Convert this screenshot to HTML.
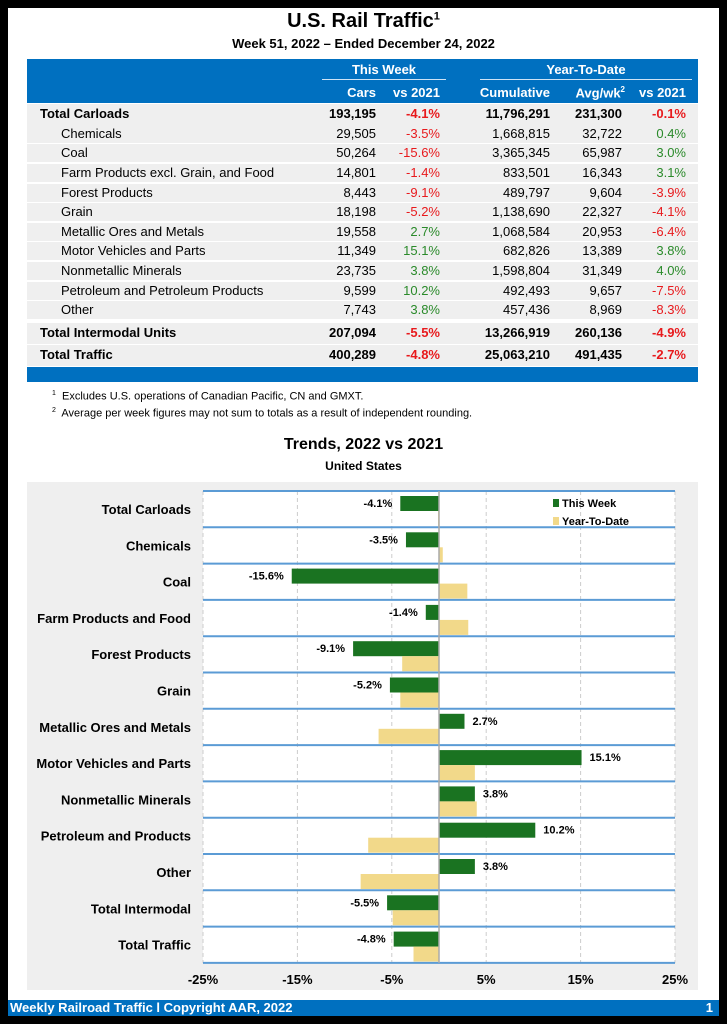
<!DOCTYPE html>
<html><head><meta charset="utf-8"><style>
body{margin:0;background:#000;}
#pg{position:relative;width:727px;height:1024px;background:#000;overflow:hidden;font-family:"Liberation Sans",sans-serif;}
#wh{position:absolute;left:8px;top:8px;width:711px;height:1008px;background:#fff;}
.t{position:absolute;white-space:nowrap;}
.r{text-align:right;}
.row{position:absolute;left:27px;width:671px;background:#efefef;}
.neg{color:#e8191c}.pos{color:#2a8a2a}
</style></head><body><div id="pg"><div id="wh"></div>
<div class="t" style="left:0;width:727px;text-align:center;top:10px;font-size:20px;font-weight:bold">U.S. Rail Traffic<sup style="font-size:11px">1</sup></div>
<div class="t" style="left:0;width:727px;text-align:center;top:36px;font-size:13px;font-weight:bold">Week 51, 2022 – Ended December 24, 2022</div>
<div style="position:absolute;left:27px;top:59px;width:671px;height:44px;background:#0070c0"></div>
<div style="position:absolute;left:322px;top:79px;width:124px;height:1px;background:#cfe3f5"></div>
<div style="position:absolute;left:480px;top:79px;width:212px;height:1px;background:#cfe3f5"></div>
<div class="t" style="left:322px;width:124px;text-align:center;top:62px;color:#fff;font-weight:bold;font-size:13px">This Week</div>
<div class="t" style="left:480px;width:212px;text-align:center;top:62px;color:#fff;font-weight:bold;font-size:13px">Year-To-Date</div>
<div class="t r" style="right:351px;top:85px;color:#fff;font-weight:bold;font-size:13px">Cars</div>
<div class="t r" style="right:287px;top:85px;color:#fff;font-weight:bold;font-size:13px">vs 2021</div>
<div class="t r" style="right:177px;top:85px;color:#fff;font-weight:bold;font-size:13px">Cumulative</div>
<div class="t r" style="right:102px;top:85px;color:#fff;font-weight:bold;font-size:13px">Avg/wk<sup style="font-size:8px">2</sup></div>
<div class="t r" style="right:41px;top:85px;color:#fff;font-weight:bold;font-size:13px">vs 2021</div>
<div id="rows"></div>
<div style="position:absolute;left:27px;top:367px;width:671px;height:15px;background:#0070c0"></div>
<div class="t" style="left:52px;top:390px;font-size:11px"><sup style="font-size:7px">1</sup>&nbsp; Excludes U.S. operations of Canadian Pacific, CN and GMXT.</div>
<div class="t" style="left:52px;top:407px;font-size:11px"><sup style="font-size:7px">2</sup>&nbsp; Average per week figures may not sum to totals as a result of independent rounding.</div>
<div class="t" style="left:0;width:727px;text-align:center;top:436px;font-size:16px;font-weight:bold">Trends, 2022 vs 2021</div>
<div class="t" style="left:0;width:727px;text-align:center;top:459px;font-size:12px;font-weight:bold">United States</div>
<svg id="ch" style="position:absolute;left:0;top:0" width="727" height="1024"></svg>
<div style="position:absolute;left:8px;top:1000px;width:711px;height:16px;background:#0070c0"></div>
<div class="t" style="left:10px;top:1000px;color:#fff;font-weight:bold;font-size:13px">Weekly Railroad Traffic l Copyright AAR, 2022</div>
<div class="t" style="right:14px;top:1000px;color:#fff;font-weight:bold;font-size:13px">1</div>
</div>
<script>
(function(){
var D=[["Total Carloads","193,195","-4.1%","11,796,291","231,300","-0.1%",1,114],
["Chemicals","29,505","-3.5%","1,668,815","32,722","0.4%",0,134],
["Coal","50,264","-15.6%","3,365,345","65,987","3.0%",0,153],
["Farm Products excl. Grain, and Food","14,801","-1.4%","833,501","16,343","3.1%",0,173],
["Forest Products","8,443","-9.1%","489,797","9,604","-3.9%",0,193],
["Grain","18,198","-5.2%","1,138,690","22,327","-4.1%",0,212],
["Metallic Ores and Metals","19,558","2.7%","1,068,584","20,953","-6.4%",0,232],
["Motor Vehicles and Parts","11,349","15.1%","682,826","13,389","3.8%",0,251],
["Nonmetallic Minerals","23,735","3.8%","1,598,804","31,349","4.0%",0,271],
["Petroleum and Petroleum Products","9,599","10.2%","492,493","9,657","-7.5%",0,291],
["Other","7,743","3.8%","457,436","8,969","-8.3%",0,310],
["Total Intermodal Units","207,094","-5.5%","13,266,919","260,136","-4.9%",1,333],
["Total Traffic","400,289","-4.8%","25,063,210","491,435","-2.7%",1,355]];
var h="";
D.forEach(function(d){var b=d[6],c=d[7],hh=b?21:18;
h+='<div class="row" style="top:'+(c-hh/2)+'px;height:'+hh+'px"></div>';
var st='top:'+(c-8)+'px;font-size:13px;'+(b?'font-weight:bold;':'');
h+='<div class="t" style="left:'+(b?40:61)+'px;'+st+'">'+d[0]+'</div>';
var cl=function(v){return v[0]=='-'?'neg':'pos'};
h+='<div class="t r" style="right:351px;'+st+'">'+d[1]+'</div>';
h+='<div class="t r '+cl(d[2])+'" style="right:287px;'+st+'">'+d[2]+'</div>';
h+='<div class="t r" style="right:177px;'+st+'">'+d[3]+'</div>';
h+='<div class="t r" style="right:105px;'+st+'">'+d[4]+'</div>';
h+='<div class="t r '+cl(d[5])+'" style="right:41px;'+st+'">'+d[5]+'</div>';});
document.getElementById('rows').innerHTML=h;
var L=["Total Carloads","Chemicals","Coal","Farm Products and Food","Forest Products","Grain","Metallic Ores and Metals","Motor Vehicles and Parts","Nonmetallic Minerals","Petroleum and Products","Other","Total Intermodal","Total Traffic"];
var W=[-4.1,-3.5,-15.6,-1.4,-9.1,-5.2,2.7,15.1,3.8,10.2,3.8,-5.5,-4.8];
var Y=[-0.1,0.4,3.0,3.1,-3.9,-4.1,-6.4,3.8,4.0,-7.5,-8.3,-4.9,-2.7];
var x0=439,k=9.44,T0=491,rh=36.3;
var s='<rect x="27" y="482" width="671" height="508" fill="#efefef"/><rect x="203" y="491" width="472" height="472" fill="#fff"/>';
[-25,-15,-5,5,15,25].forEach(function(v){var x=x0+v*k;
s+='<line x1="'+x+'" y1="491" x2="'+x+'" y2="963" stroke="#ccc" stroke-dasharray="4,3"/>';
s+='<text x="'+x+'" y="984" font-size="13" font-weight="bold" text-anchor="middle">'+v+'%</text>';});
for(var i=0;i<13;i++){var ty=T0+i*rh;
var w=W[i],y=Y[i],bx=w<0?x0+w*k:x0,yx=y<0?x0+y*k:x0;
s+='<rect x="'+bx+'" y="'+(ty+5)+'" width="'+Math.abs(w*k)+'" height="15" fill="#1a7321"/>';
s+='<rect x="'+yx+'" y="'+(ty+20)+'" width="'+Math.abs(y*k)+'" height="15" fill="#f2d98a"/>';
s+='<text x="'+(w<0?bx-8:bx+Math.abs(w*k)+8)+'" y="'+(ty+16)+'" font-size="11" font-weight="bold" text-anchor="'+(w<0?'end':'start')+'">'+w.toFixed(1)+'%</text>';
s+='<text x="191" y="'+(ty+23)+'" font-size="13" font-weight="bold" text-anchor="end">'+L[i]+'</text>';}
for(var i=0;i<=13;i++){var ty=T0+i*rh;s+='<line x1="203" y1="'+ty+'" x2="675" y2="'+ty+'" stroke="#5b9bd5" stroke-width="2"/>';}
s+='<line x1="439" y1="491" x2="439" y2="963" stroke="#aaa" stroke-width="1.5"/>';
s+='<rect x="553" y="499" width="6" height="8" fill="#1a7321"/><text x="562" y="507" font-size="11" font-weight="bold">This Week</text>';
s+='<rect x="553" y="517" width="6" height="8" fill="#f2d98a"/><text x="562" y="525" font-size="11" font-weight="bold">Year-To-Date</text>';
document.getElementById('ch').innerHTML=s;
})();
</script>
</body></html>
